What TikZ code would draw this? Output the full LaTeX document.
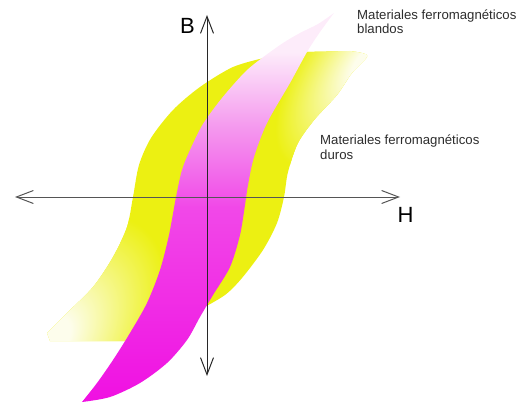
\documentclass[tikz,border=0pt]{standalone}
\usepackage{fontspec}
\setmainfont{Liberation Sans}
\usetikzlibrary{arrows.meta}
\definecolor{Yel}{RGB}{236,240,18}
\definecolor{YelP}{RGB}{253,253,236}
\definecolor{magB}{RGB}{240,16,226}
\definecolor{magM}{RGB}{241,72,232}
\definecolor{magL}{RGB}{244,150,238}
\definecolor{magP}{RGB}{253,236,250}
\definecolor{axH}{RGB}{85,85,85}
\definecolor{axV}{RGB}{40,40,40}
\definecolor{txt}{RGB}{45,45,45}
\pgfdeclareradialshading{yelrad}{\pgfpoint{0bp}{0bp}}{color(0bp)=(YelP); color(5bp)=(YelP); color(25bp)=(Yel); color(50bp)=(Yel)}
\pgfdeclareverticalshading{magshade}{100bp}{color(0bp)=(magB); color(25bp)=(magB); color(50bp)=(magM); color(60bp)=(magL); color(70bp)=(magP); color(100bp)=(magP)}
\tikzset{
  axisline/.style={line width=1pt, {Straight Barb[length=17pt,width=13pt]}-{Straight Barb[length=17pt,width=13pt]}},
  axlabel/.style={inner sep=0pt, font=\fontsize{22}{24}\selectfont, text=black},
  lbl/.style={inner sep=0pt, align=left, text=txt, font=\fontsize{13.2}{14.5}\selectfont},
}
\begin{document}
\begin{tikzpicture}[x=1pt,y=-1pt]
\useasboundingbox (0,0) rectangle (522,404);
% hard material loop: left band
\begin{scope}
  \clip plot[smooth] coordinates {(264,58) (233,67) (200,87) (173,110) (151,138) (139,165) (133,197) (127,227) (113,257) (93,287) (67,313) (47,333)}
  -- (50,341) -- (131,341)
  -- plot[smooth] coordinates {(134,333) (151,303) (164,270) (173,235) (180,197) (186,170) (194,150) (207,124) (226,98) (249,72) (266,58)}
  -- cycle;
  \fill[Yel] (0,0) rectangle (522,404);
  \shade[shading=yelrad, transform canvas={shift={(46,342)}, rotate=49}] (0,0) ellipse [x radius=150, y radius=92];
\end{scope}
% hard material loop: right band
\begin{scope}
  \clip plot[smooth] coordinates {(201,309) (209,295) (226,267) (236,235) (241,205) (244,185) (250,157) (263,123) (286,83) (303,52)}
  -- (350,51)
  -- plot[smooth] coordinates {(350,51) (362,53) (367,57) (352,73) (337,95) (315,119) (298,143) (288,172) (284,197) (277,223) (263,250) (242,278) (225,295) (201,309)}
  -- cycle;
  \fill[Yel] (0,0) rectangle (522,404);
  \shade[shading=yelrad, transform canvas={shift={(370,62)}, rotate=51}] (0,0) ellipse [x radius=130, y radius=62];
\end{scope}
% soft material loop
\shade[shading=magshade]
  plot[smooth] coordinates {(334,13) (318,24) (300,33) (283,43) (262,58) (245,72) (222,98) (203,124) (190,150) (182,170) (176,197) (169,235) (160,270) (147,303) (130,333) (113,360) (97,383) (82,402)}
  -- plot[smooth] coordinates {(82,402) (110,397) (140,383) (167,363) (187,340) (200,317) (213,295) (230,267) (240,235) (245,205) (248,185) (254,157) (267,123) (290,83) (307,52) (320,32) (334,13)}
  -- cycle;
% axes
\coordinate (hl) at (15,197);
\coordinate (hr) at (400,197);
\coordinate (vt) at (207,15);
\coordinate (vb) at (207,376);
\draw[axisline, draw=axH] (hl) -- (hr);
\draw[axisline, draw=axV] (vt) -- (vb);
\node[axlabel] (B) at (187.5,26) {B};
\node[axlabel] (H) at (405.5,215) {H};
\node[lbl, anchor=base west] (soft) at (357,34) {Materiales ferromagnéticos\\blandos};
\node[lbl, anchor=base west] (hard) at (320,159) {Materiales ferromagnéticos\\duros};
\end{tikzpicture}
\end{document}
